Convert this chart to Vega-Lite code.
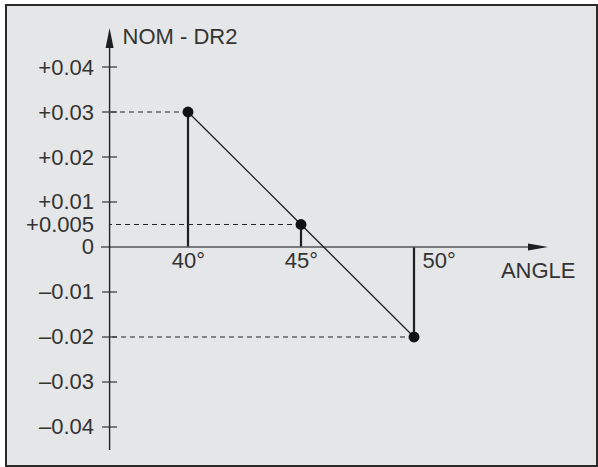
{
  "$schema": "https://vega.github.io/schema/vega-lite/v6.json",
  "width": 591,
  "height": 461,
  "autosize": {"type": "none"},
  "padding": {"left": 6, "top": 5, "right": 1, "bottom": 1},
  "background": "white",
  "config": {
    "view": {"stroke": "#2b2b2b", "strokeWidth": 2, "fill": "#e5e6e8"},
    "font": "Liberation Sans"
  },
  "data": {"values": [
    {"angle": 40, "value": 0.03},
    {"angle": 45, "value": 0.005},
    {"angle": 50, "value": -0.02}
  ]},
  "layer": [
    {
      "mark": {"type": "rule", "color": "#1e1e1e", "strokeWidth": 2.2},
      "encoding": {
        "x": {
          "field": "angle",
          "type": "quantitative",
          "scale": {"domain": [31.947, 58.097], "nice": false, "zero": false},
          "axis": {
            "orient": "bottom",
            "offset": -219,
            "domain": false,
            "ticks": false,
            "tickSize": 0,
            "grid": false,
            "values": [40, 45, 50],
            "labelExpr": "datum.value + '°'",
            "labelFont": "Liberation Sans",
            "labelFontSize": 22,
            "labelColor": "#333333",
            "labelPadding": 3,
            "labelBaseline": "top",
            "labelAlign": {"condition": {"test": "datum.value == 50", "value": "left"}, "value": "center"},
            "labelOffset": {"condition": {"test": "datum.value == 50", "value": 8}, "value": 0},
            "labelOverlap": false,
            "labelFlush": false,
            "title": "ANGLE",
            "titleFont": "Liberation Sans",
            "titleFontSize": 22,
            "titleFontWeight": "normal",
            "titleColor": "#333333",
            "titleAlign": "right",
            "titleBaseline": "alphabetic",
            "titleX": 569,
            "titleY": 30
          }
        },
        "y": {
          "field": "value",
          "type": "quantitative",
          "scale": {"domain": [-0.048667, 0.053778], "nice": false, "zero": false},
          "axis": {
            "orient": "left",
            "offset": -103.5,
            "domain": false,
            "ticks": false,
            "tickSize": 0,
            "grid": false,
            "values": [0.04, 0.03, 0.02, 0.01, 0.005, 0, -0.01, -0.02, -0.03, -0.04],
            "labelExpr": "datum.value > 0 ? '+' + format(datum.value, '.3~f') : (datum.value < 0 ? '–' + format(-datum.value, '.3~f') : '0')",
            "labelFont": "Liberation Sans",
            "labelFontSize": 22,
            "labelColor": "#333333",
            "labelPadding": 16,
            "labelBaseline": "middle",
            "labelOverlap": false,
            "labelFlush": false,
            "title": "NOM - DR2",
            "titleAngle": 0,
            "titleFont": "Liberation Sans",
            "titleFontSize": 22,
            "titleFontWeight": "normal",
            "titleColor": "#333333",
            "titleAlign": "left",
            "titleBaseline": "alphabetic",
            "titleX": 12.5,
            "titleY": 38
          }
        },
        "y2": {"datum": 0}
      }
    },
    {
      "mark": {"type": "rule", "color": "#222222", "strokeWidth": 1, "strokeDash": [5, 4]},
      "encoding": {
        "x": {"field": "angle", "type": "quantitative"},
        "x2": {"datum": 36.53},
        "y": {"field": "value", "type": "quantitative"}
      }
    },
    {
      "data": {"values": [{"part": "x axis"}]},
      "mark": {"type": "rule", "color": "#555555", "strokeWidth": 1.6},
      "encoding": {
        "x": {"datum": 36.15, "type": "quantitative"},
        "x2": {"datum": 55.2},
        "y": {"datum": 0, "type": "quantitative"}
      }
    },
    {
      "data": {"values": [{"part": "y axis"}]},
      "mark": {"type": "rule", "color": "#222222", "strokeWidth": 1.4},
      "encoding": {
        "x": {"datum": 36.53, "type": "quantitative"},
        "y": {"datum": 0.0442, "type": "quantitative"},
        "y2": {"datum": -0.04511}
      }
    },
    {
      "data": {"values": [
        {"v": 0.04}, {"v": 0.03}, {"v": 0.02}, {"v": 0.01},
        {"v": -0.01}, {"v": -0.02}, {"v": -0.03}, {"v": -0.04}
      ]},
      "mark": {"type": "tick", "orient": "horizontal", "size": 15, "thickness": 1.2, "color": "#333333", "opacity": 1},
      "encoding": {
        "x": {"datum": 36.53, "type": "quantitative"},
        "y": {"field": "v", "type": "quantitative"}
      }
    },
    {
      "mark": {"type": "line", "color": "#1e1e1e", "strokeWidth": 1.3},
      "encoding": {
        "x": {"field": "angle", "type": "quantitative"},
        "y": {"field": "value", "type": "quantitative"}
      }
    },
    {
      "mark": {"type": "point", "filled": true, "size": 120, "color": "#111111", "opacity": 1},
      "encoding": {
        "x": {"field": "angle", "type": "quantitative"},
        "y": {"field": "value", "type": "quantitative"}
      }
    },
    {
      "data": {"values": [{"part": "y arrow"}]},
      "mark": {"type": "point", "filled": true, "opacity": 1, "color": "#1e1e1e", "size": 400, "shape": "M0,-1L0.4,1L-0.4,1Z"},
      "encoding": {
        "x": {"datum": 36.53, "type": "quantitative"},
        "y": {"datum": 0.04644, "type": "quantitative"}
      }
    },
    {
      "data": {"values": [{"part": "x arrow"}]},
      "mark": {"type": "point", "filled": true, "opacity": 1, "color": "#1e1e1e", "size": 400, "shape": "M1,0L-1,-0.36L-1,0.36Z"},
      "encoding": {
        "x": {"datum": 55.487, "type": "quantitative"},
        "y": {"datum": 0, "type": "quantitative"}
      }
    }
  ]
}
